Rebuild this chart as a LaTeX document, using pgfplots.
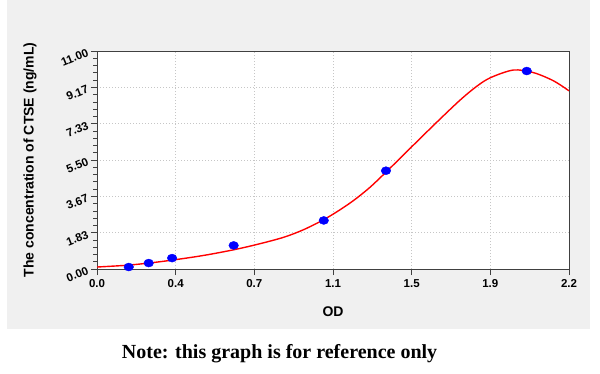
\documentclass[border=0pt]{standalone}
\usepackage{pgfplots}
\pgfplotsset{compat=1.18}
\usepackage{fontspec}
\setmainfont{Liberation Serif}
\setsansfont{Liberation Sans}
\definecolor{panel}{HTML}{F0F0F0}
\definecolor{curvered}{RGB}{255,0,0}
\definecolor{ptblue}{RGB}{0,0,255}
\begin{document}
\begin{tikzpicture}
\path[use as bounding box] (0,0) rectangle (600pt,373pt);
\fill[panel] (7pt,44pt) rectangle (590pt,373pt);
\begin{axis}[
  at={(97pt,104pt)}, anchor=south west,
  scale only axis, width=472pt, height=218pt,
  xmin=0, xmax=2.2, ymin=0, ymax=11,
  axis background/.style={fill=white},
  axis line style={black!75, line width=0.8pt},
  xtick={0,0.366667,0.733333,1.1,1.466667,1.833333,2.2},
  xticklabels={0.0,0.4,0.7,1.1,1.5,1.9,2.2},
  ytick={0,1.833333,3.666667,5.5,7.333333,9.166667,11},
  yticklabels={0.00,1.83,3.67,5.50,7.33,9.17,11.00},
  minor x tick num=3, minor y tick num=4,
  tick align=outside, xtick pos=left, ytick pos=left,
  major tick length=6pt, minor tick length=3.5pt,
  tick style={black!75, line width=0.7pt},
  grid=major,
  major grid style={gray!45, line width=0.6pt, dash pattern=on 1pt off 2pt},
  xticklabel style={font=\sffamily\bfseries\fontsize{11.5}{12}\selectfont, yshift=-1pt},
  yticklabel style={font=\sffamily\bfseries\fontsize{11.5}{12}\selectfont, rotate=22, anchor=east},
  xlabel={OD},
  ylabel={The concentration of CTSE (ng/mL)},
  xlabel style={font=\sffamily\bfseries\fontsize{14}{16}\selectfont, at={(axis description cs:0.5,-0.197)}, anchor=center},
  ylabel style={font=\sffamily\bfseries\fontsize{14}{16}\selectfont, at={(axis description cs:-0.142,0.5)}, anchor=center},
  clip=true,
]
\addplot[curvered, line width=1.4pt, smooth, tension=0.5] coordinates {
  (0,0.10) (0.14,0.19) (0.25,0.31) (0.365,0.47) (0.5,0.69) (0.637,0.97)
  (0.75,1.25) (0.87,1.60) (0.96,1.97) (1.05,2.45) (1.12,2.90) (1.195,3.45)
  (1.27,4.10) (1.35,4.92) (1.467,6.17) (1.583,7.40) (1.692,8.52) (1.77,9.22)
  (1.835,9.66) (1.941,10.04) (2.034,9.91) (2.127,9.50) (2.2,8.99)
};
\addplot[only marks, mark=*, mark size=4pt, mark options={xscale=1.2, fill=ptblue, draw=ptblue}] coordinates {
  (0.148,0.10) (0.241,0.30) (0.35,0.55) (0.637,1.19) (1.057,2.45) (1.347,4.96) (2.003,9.99)
};
\end{axis}
\node[anchor=base west, inner sep=0pt, font=\bfseries\fontsize{20}{22}\selectfont] at (121.7pt,14.7pt) {Note: this graph is for reference only};
\end{tikzpicture}
\end{document}
